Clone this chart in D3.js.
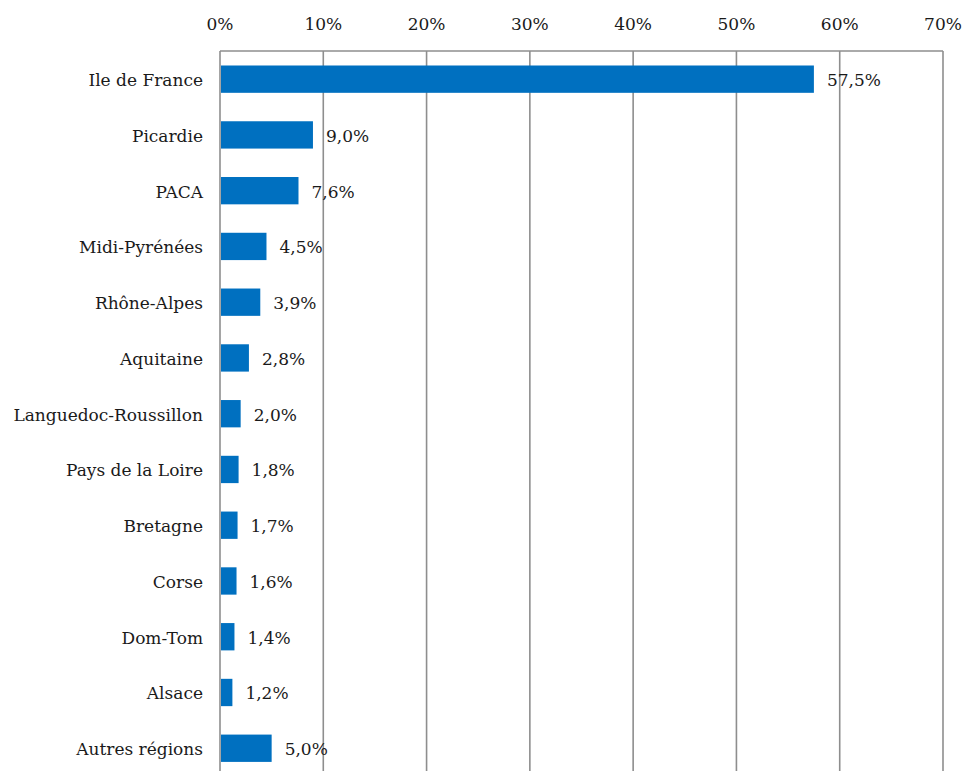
<!DOCTYPE html>
<html>
<head>
<meta charset="utf-8">
<script src="https://cdn.jsdelivr.net/npm/d3@7"></script>
<style>
  body { margin: 0; background: #fff; }
  svg text { font-family: "DejaVu Serif", serif; fill: #1a1a1a; }
</style>
</head>
<body>
<div id="chart"></div>
<script>
// regions and their share (%)
const regions = ["Ile de France", "Picardie", "PACA", "Midi-Pyrénées", "Rhône-Alpes", "Aquitaine",
  "Languedoc-Roussillon", "Pays de la Loire", "Bretagne", "Corse", "Dom-Tom", "Alsace", "Autres régions"];
const shares = [57.5, 9.0, 7.6, 4.5, 3.9, 2.8, 2.0, 1.8, 1.7, 1.6, 1.4, 1.2, 5.0];
const xTicks = [0, 10, 20, 30, 40, 50, 60, 70];

const width = 965, height = 771;
const margin = {top: 51, left: 220, right: 22};
const rowH = 55.8;
const fontSize = "17px";

const svg = d3.select("#chart").append("svg")
    .attr("width", width)
    .attr("height", height);

const x = d3.scaleLinear().domain([0, 70]).range([margin.left, width - margin.right]);
const y = d3.scaleBand().domain(regions)
    .range([margin.top, margin.top + rowH * regions.length])
    .paddingInner(0.51).paddingOuter(0.26);

const fmt = v => d3.format(".1f")(v).replace(".", ",") + "%";

// vertical gridlines
svg.selectAll(".grid")
    .data(xTicks)
    .enter().append("line")
    .attr("x1", d => x(d)).attr("x2", d => x(d))
    .attr("y1", margin.top).attr("y2", height + 10)
    .attr("stroke", "#8e8e8e")
    .attr("stroke-width", 1.6);

// top border
svg.append("line")
    .attr("x1", x(0)).attr("x2", x(70))
    .attr("y1", margin.top).attr("y2", margin.top)
    .attr("stroke", "#8e8e8e")
    .attr("stroke-width", 1.6);

// top axis labels
svg.selectAll(".xlab")
    .data(xTicks)
    .enter().append("text")
    .attr("x", d => x(d))
    .attr("y", 30)
    .attr("text-anchor", "middle")
    .style("font-size", fontSize)
    .text(d => d + "%");

// bars
svg.selectAll(".bar")
    .data(regions)
    .enter().append("rect")
    .attr("x", x(0) + 1)
    .attr("y", d => y(d))
    .attr("width", (d, i) => x(shares[i]) - x(0) - 1)
    .attr("height", y.bandwidth())
    .attr("fill", "#0070c0");

// category labels
svg.selectAll(".ylab")
    .data(regions)
    .enter().append("text")
    .attr("x", margin.left - 17)
    .attr("y", d => y(d) + y.bandwidth() / 2 + 1)
    .attr("dy", "0.35em")
    .attr("text-anchor", "end")
    .style("font-size", fontSize)
    .text(d => d);

// value labels
svg.selectAll(".vlab")
    .data(regions)
    .enter().append("text")
    .attr("x", (d, i) => x(shares[i]) + 13)
    .attr("y", d => y(d) + y.bandwidth() / 2 + 1)
    .attr("dy", "0.35em")
    .style("font-size", fontSize)
    .text((d, i) => fmt(shares[i]));
</script>
</body>
</html>
